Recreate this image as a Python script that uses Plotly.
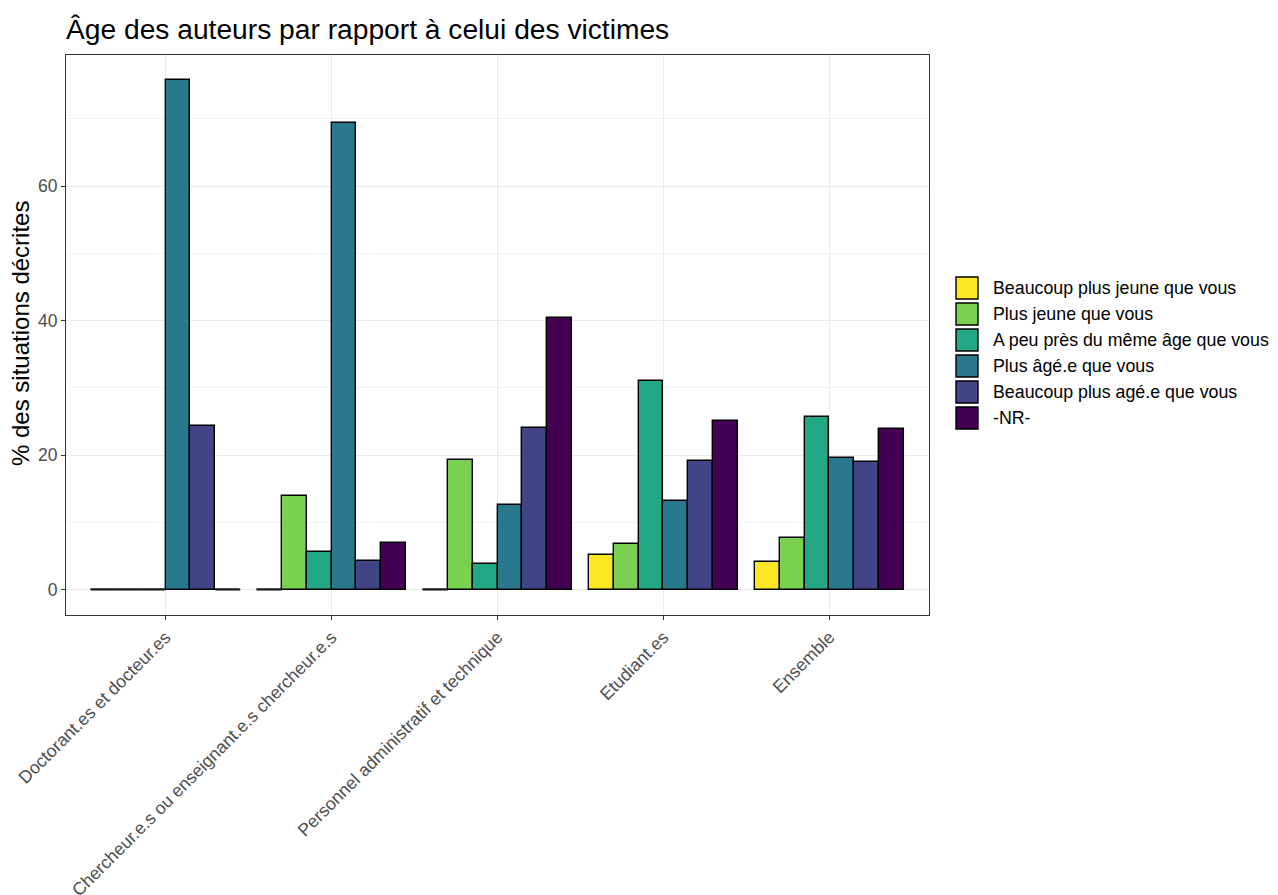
import plotly.graph_objects as go

categories = ["Doctorant.es et docteur.es",
              "Chercheur.e.s ou enseignant.e.s chercheur.e.s",
              "Personnel administratif et technique",
              "Etudiant.es",
              "Ensemble"]
series_names = ["Beaucoup plus jeune que vous",
                "Plus jeune que vous",
                "A peu près du même âge que vous",
                "Plus âgé.e que vous",
                "Beaucoup plus agé.e que vous",
                "-NR-"]
beaucoup_plus_jeune = [0, 0, 0, 5.2, 4.1]
plus_jeune = [0, 13.9, 19.2, 6.7, 7.7]
meme_age = [0, 5.6, 3.8, 31.0, 25.7]
plus_age = [75.7, 69.4, 12.5, 13.1, 19.6]
beaucoup_plus_age = [24.3, 4.2, 24.0, 19.1, 18.9]
non_repondu = [0, 6.9, 40.4, 25.0, 23.9]
series_values = [beaucoup_plus_jeune, plus_jeune, meme_age, plus_age,
                 beaucoup_plus_age, non_repondu]
colors = ["#FDE725", "#7AD151", "#22A884", "#2A788E", "#414487", "#440154"]

# layout geometry (page pixels); the page body adds an 8px offset
W, H = 1278, 895
OFF = 8
L, R, T, B = 66, 929, 55, 615

n_s = len(series_names)
group_w = 0.9
bw = group_w / n_s
cat_pos = list(range(1, len(categories) + 1))

fig = go.Figure()
zx, zy = [], []
for j, (name, vals, col) in enumerate(zip(series_names, series_values, colors)):
    xs = [c + (j - (n_s - 1) / 2) * bw for c in cat_pos]
    fig.add_trace(go.Bar(x=xs, y=vals, width=bw, name=name,
                         marker=dict(color=col, line=dict(color="black", width=1.4)),
                         showlegend=False))
    for x, v in zip(xs, vals):
        if v == 0:
            zx += [x - bw / 2, x + bw / 2, None]
            zy += [0, 0, None]
fig.add_trace(go.Scatter(x=zx, y=zy, mode="lines",
                         line=dict(color="#1a1a1a", width=2),
                         showlegend=False, hoverinfo="skip"))

ymax = max(max(v) for v in series_values)
pad = 0.05 * ymax

def px_x(px):
    return (px - L) / (R - L)

def px_y(py):
    return (B - py) / (B - T)

FONT = "Liberation Sans"
shapes = []
annotations = []
for j, (name, col) in enumerate(zip(series_names, colors)):
    top = 276 + j * 26
    shapes.append(dict(type="rect", xref="paper", yref="paper",
                       x0=px_x(956), x1=px_x(978), y0=px_y(top + 23), y1=px_y(top + 1),
                       fillcolor=col, line=dict(color="black", width=1.4)))
    annotations.append(dict(xref="paper", yref="paper", x=px_x(991), y=px_y(top + 12),
                            text=name, showarrow=False, xanchor="left", yanchor="middle",
                            font=dict(size=17.8, color="black", family=FONT)))
annotations.append(dict(xref="paper", yref="paper", x=px_x(20), y=px_y(334),
                        text="% des situations décrites", textangle=-90,
                        showarrow=False, xanchor="center", yanchor="middle",
                        font=dict(size=24, color="black", family=FONT)))

fig.update_layout(
    width=W, height=H,
    margin=dict(l=L - OFF, r=W - (R - OFF), t=T - OFF, b=H - (B - OFF), autoexpand=False),
    paper_bgcolor="white", plot_bgcolor="white",
    font=dict(family=FONT, color="#4D4D4D", size=17),
    title=dict(text="Âge des auteurs par rapport à celui des victimes",
               x=(L - OFF) / W, xanchor="left", y=1 - (29 - OFF) / H, yanchor="middle",
               font=dict(size=28.2, color="black", family=FONT)),
    shapes=shapes, annotations=annotations,
    bargap=0,
    showlegend=False,
)
fig.update_xaxes(range=[0.4, len(categories) + 0.6],
                 tickmode="array", tickvals=cat_pos, ticktext=categories,
                 tickangle=-45, tickfont=dict(size=17.7, color="#4D4D4D"),
                 showgrid=True, gridcolor="#EBEBEB", gridwidth=1.1,
                 zeroline=False, showline=True, mirror=True,
                 linecolor="#333333", linewidth=1,
                 ticks="outside", ticklen=4, tickcolor="#333333", tickwidth=1)
fig.update_yaxes(range=[-pad, ymax + pad],
                 tickmode="array", tickvals=[0, 20, 40, 60],
                 tickfont=dict(size=17.5, color="#4D4D4D"),
                 showgrid=True, gridcolor="#EBEBEB", gridwidth=1.1,
                 minor=dict(tickvals=[10, 30, 50, 70], showgrid=True,
                            gridcolor="#F2F2F2", gridwidth=0.6, ticks=""),
                 zeroline=False, showline=True, mirror=True,
                 linecolor="#333333", linewidth=1,
                 ticks="outside", ticklen=4, tickcolor="#333333", tickwidth=1)

fig.write_html("out.html")
